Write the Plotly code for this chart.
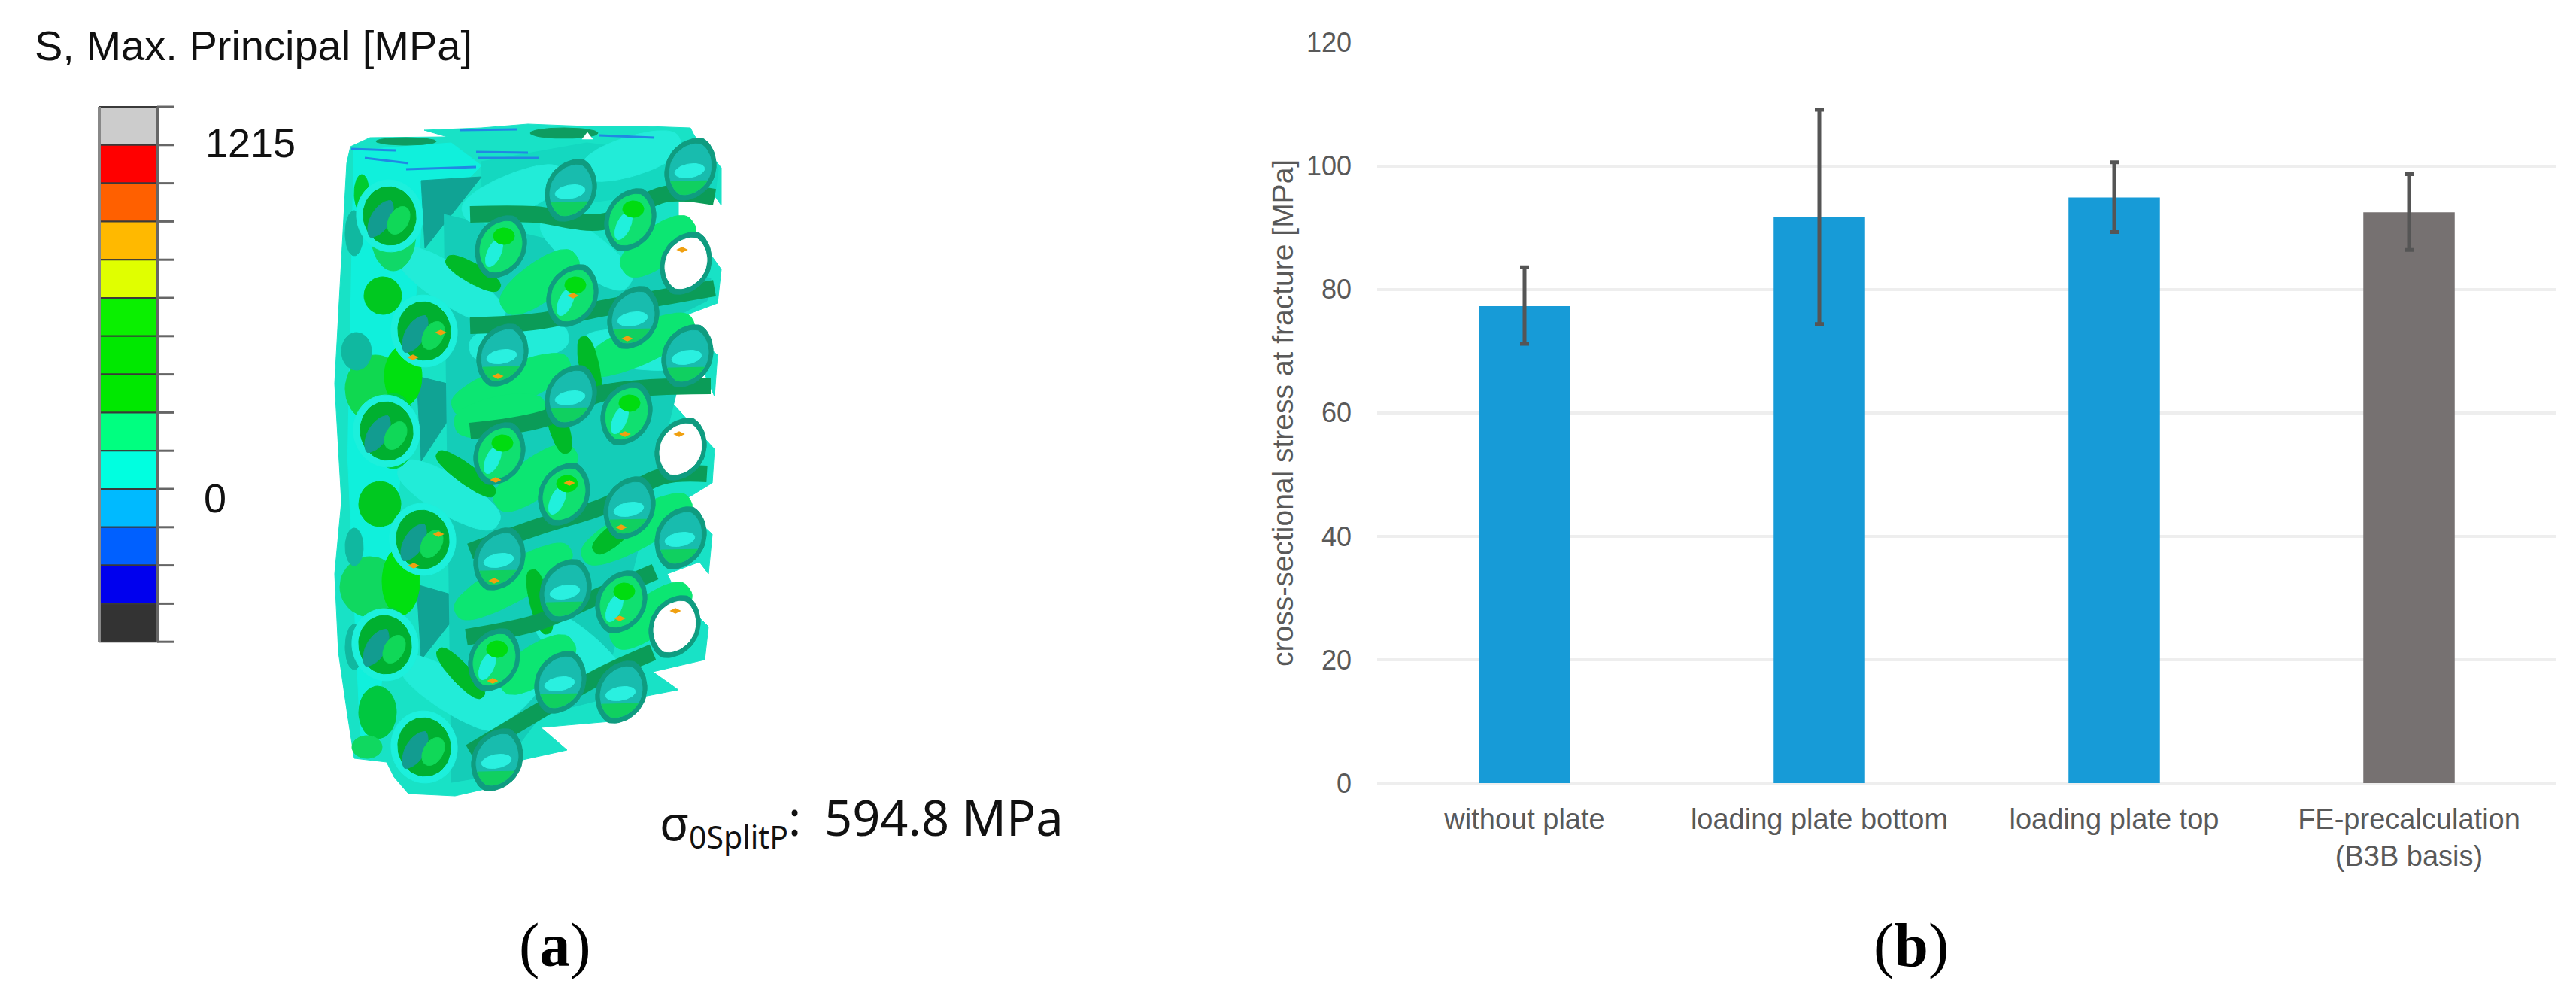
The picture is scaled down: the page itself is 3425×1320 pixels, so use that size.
import math
import plotly.graph_objects as go

# ---------- panel (b): bar chart ----------
categories = ["without plate", "loading plate bottom", "loading plate top", "FE-precalculation<br>(B3B basis)"]
stress_mean = [77.3, 91.7, 94.9, 92.5]
err_plus = [6.3, 17.4, 5.7, 6.2]
err_minus = [6.1, 17.3, 5.6, 6.1]
bar_colors = ["#179BD7", "#179BD7", "#179BD7", "#767171"]
y_ticks = [0, 20, 40, 60, 80, 100, 120]

# ---------- panel (a): legend ----------
legend_colors = ["#cccccc", "#ff0000", "#ff6000", "#ffb900", "#e0ff00", "#0af000", "#00e800", "#00e800",
                 "#00ff80", "#00ffe0", "#00baff", "#0060ff", "#0000ee", "#333333"]
legend_heights = [50.8] * 14

# ---------- panel (a): lattice illustration, picture pixel coordinates ----------
outline_x = [564, 640, 702, 780, 860, 918, 923, 959, 959, 950, 902, 902, 923, 959, 954, 909, 909, 954, 950, 937, 895,
             895, 950, 947, 898, 909, 947, 942, 930, 887, 902, 942, 937, 868, 902, 850, 823, 719, 754, 695, 671, 605,
             543, 524, 514, 471, 462, 450, 445, 454, 445, 452, 461, 466, 492, 595]
outline_y = [173, 170, 165, 168, 168, 170, 180, 223, 273, 260, 268, 293, 308, 358, 403, 420, 432, 472, 527, 497, 517,
             537, 597, 642, 672, 675, 710, 763, 747, 763, 793, 833, 877, 893, 917, 927, 958, 967, 997, 1010, 1043, 1058,
             1055, 1033, 1013, 1008, 950, 867, 763, 667, 510, 383, 217, 195, 183, 182]

hole_kind = ["teal", "teal", "green", "green", "green", "white", "teal", "teal", "teal", "teal", "green", "green", "white",
             "green", "teal", "teal", "teal", "teal", "green", "green", "white", "teal", "teal", "teal",
             "left", "left", "left", "left", "left", "left"]
hole_x = [759, 918, 838, 666, 761, 912, 842, 668, 914, 759, 833, 664, 905, 750, 837, 664, 905, 752, 826, 657, 897, 745, 826, 661,
          518, 564, 562, 512, 564, 514]
hole_y = [253, 225, 292, 328, 393, 350, 422, 472, 473, 527, 550, 603, 597, 657, 675, 743, 715, 785, 800, 877, 833, 907, 920, 1010,
          287, 440, 717, 857, 993, 573]

net_rows_x = [[950, 885, 800, 710, 625], [950, 800, 716, 625], [945, 800, 722, 625],
              [940, 881, 802, 716, 625], [871, 785, 716, 620], [868, 795, 709, 625]]
net_rows_y = [[262, 258, 295, 285, 285], [383, 410, 427, 433], [513, 523, 557, 573],
              [630, 633, 673, 700, 733], [760, 797, 827, 847], [867, 900, 950, 1000]]

spring_x0 = [690, 850, 802, 626, 630, 681, 798, 629, 836, 688]
spring_y0 = [395, 345, 480, 533, 560, 657, 730, 803, 840, 900]
spring_x1 = [745, 900, 898, 733, 700, 743, 895, 736, 895, 740]
spring_y1 = [355, 310, 437, 490, 545, 613, 677, 743, 797, 867]

deep_x0 = [605, 592, 592, 778, 800, 735, 710]
deep_y0 = [350, 610, 873, 460, 725, 540, 770]
deep_x1 = [653, 647, 633, 790, 830, 750, 725]
deep_y1 = [377, 650, 917, 520, 700, 590, 830]

lobe_x0 = [554, 743, 554, 733, 557, 640, 800, 660, 800, 650]
lobe_y0 = [350, 307, 633, 833, 893, 275, 220, 940, 460, 460]
lobe_x1 = [647, 816, 640, 805, 647, 725, 880, 700, 900, 730]
lobe_y1 = [410, 363, 683, 893, 950, 240, 195, 900, 470, 450]

wedge_x = [[560, 640, 565], [554, 623, 560], [554, 623, 560]]
wedge_y = [[240, 235, 330], [500, 517, 613], [777, 797, 877]]

blob_x = [523, 481, 499, 536, 509, 523, 505, 492, 533, 519, 502, 488, 471, 474, 471, 471]
blob_y = [310, 257, 517, 500, 393, 573, 670, 780, 773, 853, 947, 993, 310, 467, 860, 727]
blob_rx = [30, 10, 40, 25, 25, 30, 28, 40, 25, 25, 25, 20, 12, 20, 12, 12]
blob_ry = [50, 25, 45, 40, 25, 50, 30, 40, 45, 45, 35, 15, 30, 25, 30, 25]
blob_col = ["#10d868", "#00cc30", "#10d850", "#00e010", "#00c820", "#00d040", "#00c820", "#10d860", "#00e010", "#00d040",
            "#00c840", "#10d860", "#10b8a0", "#10b8a0", "#10b8a0", "#10b8a0"]

streak_x = [[467, 526], [485, 543], [540, 633], [633, 702], [612, 688], [636, 716], [797, 870]]
streak_y = [[198, 200], [210, 217], [225, 222], [202, 203], [173, 172], [210, 210], [180, 183]]

spot_x = [907, 762, 586, 549, 662, 834, 831, 903, 659, 757, 583, 826, 657, 655, 898, 824, 550]
spot_y = [332, 393, 442, 475, 500, 450, 577, 577, 638, 642, 710, 701, 772, 905, 812, 822, 752]


def tilted(cx, cy, rx, ry, phi=20, n=48, point=1.0):
    p = math.radians(phi)
    xs, ys = [], []
    for i in range(n + 1):
        t = 2 * math.pi * i / n
        s = math.sin(t)
        side = rx * math.copysign(abs(s) ** point, s)
        xs.append(cx + ry * math.cos(t) * math.sin(p) + side * math.cos(p))
        ys.append(cy - ry * math.cos(t) * math.cos(p) + side * math.sin(p))
    return xs, ys


def between(x0, y0, x1, y1, w):
    ln = math.hypot(x1 - x0, y1 - y0)
    phi = math.degrees(math.atan2(x1 - x0, -(y1 - y0)))
    return tilted((x0 + x1) / 2, (y0 + y1) / 2, w / 2, ln / 2 + w / 2, phi, point=0.7)


fig = go.Figure()
PX = dict(xaxis="x2", yaxis="y2", hoverinfo="skip", showlegend=False)


def poly(xs, ys, color):
    fig.add_trace(go.Scatter(x=xs, y=ys, mode="lines", fill="toself", fillcolor=color,
                             line=dict(color=color, width=1), **PX))


def stroke(xs, ys, color, w, smooth=True):
    fig.add_trace(go.Scatter(x=xs, y=ys, mode="lines",
                             line=dict(color=color, width=w, shape="spline" if smooth else "linear"), **PX))


# chart bars
fig.add_trace(go.Bar(x=categories, y=stress_mean, marker=dict(color=bar_colors, line=dict(width=0)), width=0.31,
                     error_y=dict(type="data", symmetric=False, array=err_plus, arrayminus=err_minus,
                                  color="#555555", thickness=5, width=6),
                     showlegend=False))

# legend cells
bases = [142 + sum(legend_heights[:i]) for i in range(14)]
fig.add_trace(go.Bar(x=[171] * 14, y=legend_heights, base=bases, width=78,
                     marker=dict(color=legend_colors, line=dict(color="#3a3a3a", width=2)), **PX))
for b in bases + [bases[-1] + legend_heights[-1]]:
    stroke([209, 232], [b, b], "#666666", 3, False)
stroke([132, 132], [142, 853], "#888888", 4, False)
stroke([210, 210], [142, 853], "#666666", 4, False)

# lattice body
poly(outline_x + outline_x[:1], outline_y + outline_y[:1], "#18e2c6")
poly([470, 600, 640, 560, 545, 520, 500, 480, 462], [200, 190, 220, 300, 500, 760, 990, 1000, 600], "#10f0dc")
poly([640, 780, 860, 925, 955, 950, 900, 850, 780, 700, 640], [215, 190, 200, 185, 225, 265, 265, 260, 270, 285, 280], "#14d8c0")
for wx, wy in zip(wedge_x, wedge_y):
    poly(wx + wx[:1], wy + wy[:1], "#10a394")
poly([590, 945, 940, 900, 900, 880, 800, 720, 660, 600], [285, 370, 400, 420, 520, 600, 930, 950, 1030, 1040], "#14cdb8")
for x0, y0, x1, y1 in zip(lobe_x0, lobe_y0, lobe_x1, lobe_y1):
    ex, ey = between(x0, y0, x1, y1, 52)
    poly(ex, ey, "#22ecd8")
for x0, y0, x1, y1 in zip(spring_x0, spring_y0, spring_x1, spring_y1):
    ex, ey = between(x0, y0, x1, y1, 52)
    poly(ex, ey, "#0ce672")
for x0, y0, x1, y1 in zip(deep_x0, deep_y0, deep_x1, deep_y1):
    ex, ey = between(x0, y0, x1, y1, 26)
    poly(ex, ey, "#00ba28")
for bx, by, rx, ry, c in zip(blob_x, blob_y, blob_rx, blob_ry, blob_col):
    ex, ey = tilted(bx, by, rx, ry, 0)
    poly(ex, ey, c)
for nx, ny in zip(net_rows_x, net_rows_y):
    stroke(nx, ny, "#0b9c58", 22)

# top deck streaks
for sx, sy in zip(streak_x, streak_y):
    stroke(sx, sy, "#2088e4", 3, False)
ex, ey = tilted(750, 177, 45, 7, 0)
poly(ex, ey, "#0e9c60")
ex, ey = tilted(540, 188, 40, 5, 0)
poly(ex, ey, "#0e9c60")

# lattice openings
for kind, hx, hy in zip(hole_kind, hole_x, hole_y):
    if kind == "left":
        ox, oy = tilted(hx, hy, 44, 48, -10)
        poly(ox, oy, "#1cf0dc")
        ix, iy = tilted(hx, hy, 35, 39, -10)
        poly(ix, iy, "#00b030")
        cx, cy = tilted(hx - 12, hy + 4, 13, 28, 30, point=1.3)
        poly(cx, cy, "#129c90")
        cx, cy = tilted(hx + 12, hy + 6, 13, 20, 30)
        poly(cx, cy, "#10d858")
        continue
    ox, oy = tilted(hx, hy, 33, 44, 24, point=1.25)
    poly(ox, oy, "#0f9c80")
    ix, iy = tilted(hx, hy, 27, 36, 24, point=1.25)
    if kind == "white":
        poly(ix, iy, "#ffffff")
    elif kind == "teal":
        poly(ix, iy, "#18bcae")
        mx, my = tilted(hx - 1, hy + 2, 9, 20, 80)
        poly(mx, my, "#2af0e0")
        cap = [(a, b) for a, b in zip(ix, iy) if b > hy + 15]
        poly([c[0] for c in cap] + [cap[0][0]], [c[1] for c in cap] + [cap[0][1]], "#10d060")
    else:
        poly(ix, iy, "#10e070")
        sx2, sy2 = tilted(hx - 9, hy + 8, 9, 20, 24)
        poly(sx2, sy2, "#20f0dc")
        gx2, gy2 = tilted(hx + 4, hy - 14, 14, 11, 0)
        poly(gx2, gy2, "#00dc10")

fig.add_trace(go.Scatter(x=spot_x, y=spot_y, mode="markers",
                         marker=dict(symbol="diamond-wide", size=11, color="#f0a010", line=dict(width=0)), **PX))
fig.add_trace(go.Scatter(x=[781], y=[182], mode="markers",
                         marker=dict(symbol="triangle-up", size=13, color="#ffffff", line=dict(width=0)), **PX))


def label(x, y, text, size, family="Liberation Sans", color="#111111", anchor="left"):
    fig.add_annotation(x=x, y=y, xref="x2", yref="y2", text=text, showarrow=False, xanchor=anchor, yanchor="middle",
                       font=dict(family=family, size=size, color=color))


label(44, 60, "S, Max. Principal [MPa]", 56)
label(271, 190, "1215", 54)
label(269, 662, "0", 54)
label(875, 1092, "σ", 64, "Noto Sans")
label(914, 1112, "0SplitP", 41, "Noto Sans")
label(1046, 1086, ":", 64, "Noto Sans")
label(1094, 1086, "594.8 MPa", 65, "Noto Sans")
label(738, 1256, "(<b>a</b>)", 82, "Liberation Serif", "#000000", "center")
label(2541, 1256, "(<b>b</b>)", 82, "Liberation Serif", "#000000", "center")

fig.update_layout(
    width=3425, height=1320, margin=dict(l=0, r=0, t=0, b=0), autosize=False,
    paper_bgcolor="#ffffff", plot_bgcolor="rgba(0,0,0,0)", barmode="overlay",
    xaxis=dict(domain=[1831 / 3425, 3399 / 3425], type="category", categoryorder="array", categoryarray=categories,
               showgrid=False, zeroline=False, showline=False, ticks="", ticklabelstandoff=22,
               tickfont=dict(family="Liberation Sans", size=38, color="#595959"), automargin=False),
    yaxis=dict(domain=[1 - 1041 / 1320, 1 - 56.7 / 1320], range=[0, 120], tickvals=y_ticks, showgrid=True,
               gridcolor="#eeeeee", gridwidth=4, zeroline=True, zerolinecolor="#eeeeee", zerolinewidth=4, showline=False,
               ticks="", ticklabelstandoff=33, tickfont=dict(family="Liberation Sans", size=36, color="#595959"),
               automargin=False,
               title=dict(text="cross-sectional stress at fracture [MPa]", standoff=5,
                          font=dict(family="Liberation Sans", size=39, color="#595959"))),
    xaxis2=dict(domain=[0, 1], range=[0, 3425], visible=False, anchor="y2"),
    yaxis2=dict(domain=[0, 1], range=[1320, 0], visible=False, anchor="x2"),
)

fig.write_html("out.html", config={"displayModeBar": False},
               post_script="document.body.style.margin='0';")
